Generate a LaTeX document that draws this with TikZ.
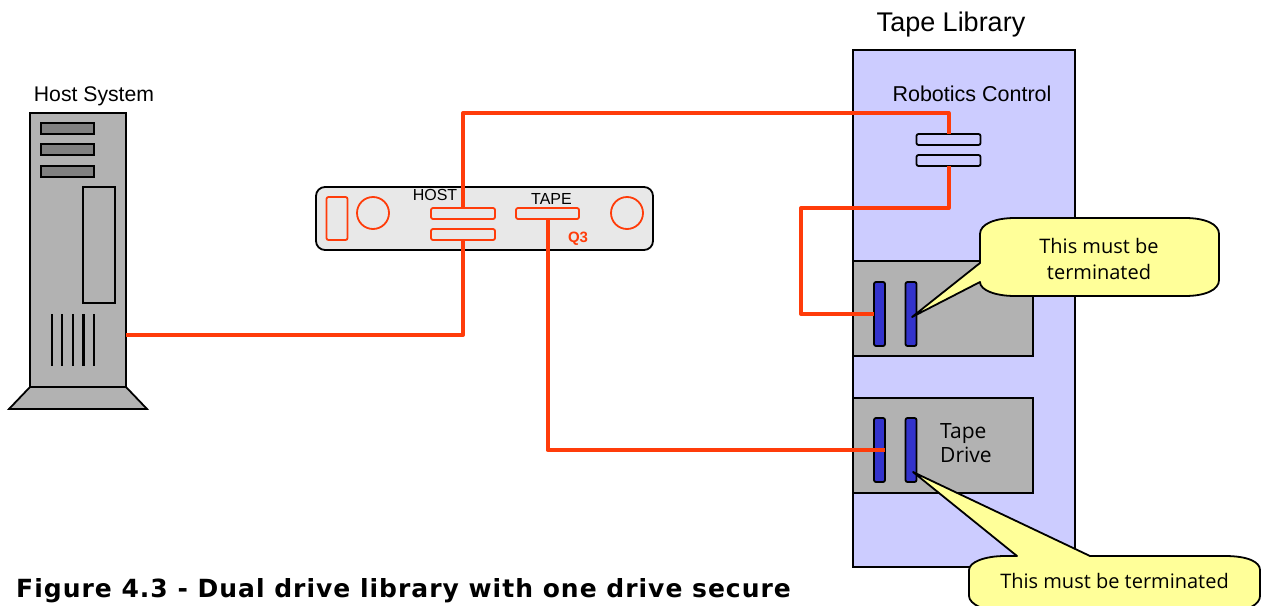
\documentclass[tikz,border=0pt]{standalone}
\usepackage{fontspec}
\setmainfont{Liberation Sans}
\newfontfamily\calloutfont{Open Sans}
\newfontfamily\captionfont[LetterSpace=4]{DejaVu Sans}
\usepackage{tikz}
\definecolor{cablered}{RGB}{255,60,10}
\definecolor{libblue}{RGB}{204,204,255}
\definecolor{drivegray}{RGB}{178,178,178}
\definecolor{slotgray}{RGB}{128,128,128}
\definecolor{panelgray}{RGB}{232,232,232}
\definecolor{barblue}{RGB}{51,51,204}
\definecolor{noteyellow}{RGB}{255,255,153}
\tikzset{
	box/.style = {draw=black, line width=1.8pt, inner sep=0pt, outer sep=0pt},
	slotbox/.style = {box, fill=slotgray, minimum width=53pt, minimum height=11pt},
	redbox/.style = {draw=cablered, line width=1.8pt, inner sep=0pt, outer sep=0pt, rounded corners=2pt, fill=panelgray},
	portbox/.style = {box, rounded corners=2pt, fill=libblue, minimum width=64pt, minimum height=11pt},
	barbox/.style = {box, rounded corners=2pt, fill=barblue, minimum width=11pt, minimum height=64pt},
	drivebox/.style = {box, fill=drivegray, minimum width=180pt, minimum height=95pt},
	cable/.style = {draw=cablered, line width=4pt, line join=round},
	note/.style = {draw=black, line width=1.8pt, fill=noteyellow, line join=round},
	vent/.style = {draw=black, line width=2.2pt}
}
\begin{document}
\begin{tikzpicture}[x=1pt, y=-1pt]
	\useasboundingbox (0,0) rectangle (1265,605);
	% host tower
	\draw[box, fill=drivegray] (30,387) -- (126,387) -- (147,409) -- (9,409) -- cycle;
	\node[box, fill=drivegray, minimum width=96pt, minimum height=274pt] (Tower) at (78,250) {};
	\foreach \y/\name in {128.5/SlotA, 149.5/SlotB, 171.5/SlotC}
		\node[slotbox] (\name) at (67.5,\y) {};
	\node[box, minimum width=32pt, minimum height=116pt] (Panel) at (99,245) {};
	\foreach \x in {51.7,62.3,72.9,83.5,94}
		\draw[vent] (\x,314) -- (\x,366);
	\node[font=\fontsize{21.2}{24}\selectfont] (HostLabel) at (94,96) {Host System};
	\coordinate (TowerOut) at (126,335);

	% Q3 unit
	\node[draw=black, line width=1.8pt, fill=panelgray, rounded corners=9pt, inner sep=0pt,
		minimum width=337pt, minimum height=63pt] (Unit) at (484.5,218.5) {};
	\node[redbox, minimum width=21pt, minimum height=43pt] (Switch) at (337,218.5) {};
	\node[redbox, circle, minimum size=32pt] (KnobA) at (373,213) {};
	\node[redbox, circle, minimum size=32pt] (KnobB) at (627,213) {};
	\node[redbox, minimum width=64pt, minimum height=11pt] (HostA) at (463,213.5) {};
	\node[redbox, minimum width=64pt, minimum height=11pt] (HostB) at (463,234.5) {};
	\node[redbox, minimum width=63pt, minimum height=11pt] (TapePort) at (547.5,213.5) {};
	\node[font=\fontsize{16}{18}\selectfont] (HostText) at (435,195) {HOST};
	\node[font=\fontsize{16}{18}\selectfont] (TapeText) at (551.5,199) {TAPE};
	\node[font=\fontsize{15}{18}\selectfont\bfseries, text=cablered] (QText) at (578,238.5) {Q3};

	% tape library
	\node[box, fill=libblue, minimum width=222pt, minimum height=517pt] (Library) at (964,308.5) {};
	\node[font=\fontsize{27}{30}\selectfont] (LibText) at (951,25) {Tape Library};
	\node[font=\fontsize{21.5}{24}\selectfont] (RobotText) at (972,93.5) {Robotics Control};
	\node[portbox] (RobotA) at (948.5,139.5) {};
	\node[portbox] (RobotB) at (948.5,160.5) {};
	\node[drivebox] (DriveA) at (943,308.5) {};
	\node[drivebox] (DriveB) at (943,445.5) {};
	\node[barbox] (BarA) at (879.5,314) {};
	\node[barbox] (BarB) at (911,314) {};
	\node[barbox] (BarC) at (879.5,450) {};
	\node[barbox] (BarD) at (911,450) {};
	\node[font=\calloutfont\fontsize{21}{24}\selectfont, align=left, anchor=west, inner sep=0pt] (DriveText) at (940,443) {Tape\\Drive};

	% cables
	\coordinate (BendA) at (463,113);
	\coordinate (BendB) at (801,208);
	\draw[cable] (TowerOut) -| (HostB.south);
	\draw[cable] (HostA.north) -- (BendA) -| (RobotA.north);
	\draw[cable] (RobotB.south) |- (BendB) |- (BarA.west);
	\draw[cable] (TapePort.south) |- (BarC.east);

	% callouts
	\coordinate (TipA) at (912,317);
	\coordinate (TipB) at (913,472);
	\draw[note] (980,263) -- (TipA) -- (980,282) .. controls (980,290) and (995,296) .. (1015,296)
		-- (1185,296) .. controls (1205,296) and (1219,290) .. (1219,280)
		-- (1219,234) .. controls (1219,224) and (1205,218) .. (1185,218)
		-- (1015,218) .. controls (995,218) and (980,224) .. (980,234) -- cycle;
	\node[font=\calloutfont\fontsize{20}{26}\selectfont, align=center] (NoteA) at (1099,259) {This must be\\terminated};
	\draw[note] (1017,556) -- (TipB) -- (1090,556)
		-- (1225,556) .. controls (1248,556) and (1260,562) .. (1260,570)
		-- (1260,596) .. controls (1260,604) and (1248,612) .. (1225,612)
		-- (1005,612) .. controls (985,612) and (969,604) .. (969,596)
		-- (969,570) .. controls (969,562) and (985,556) .. (1005,556) -- cycle;
	\node[font=\calloutfont\fontsize{20}{26}\selectfont] (NoteB) at (1114.5,581) {This must be terminated};

	\node[font=\captionfont\fontsize{25}{30}\selectfont\bfseries, anchor=base west, inner sep=0pt] (Caption) at (16,597) {Figure 4.3 - Dual drive library with one drive secure};
\end{tikzpicture}
\end{document}
